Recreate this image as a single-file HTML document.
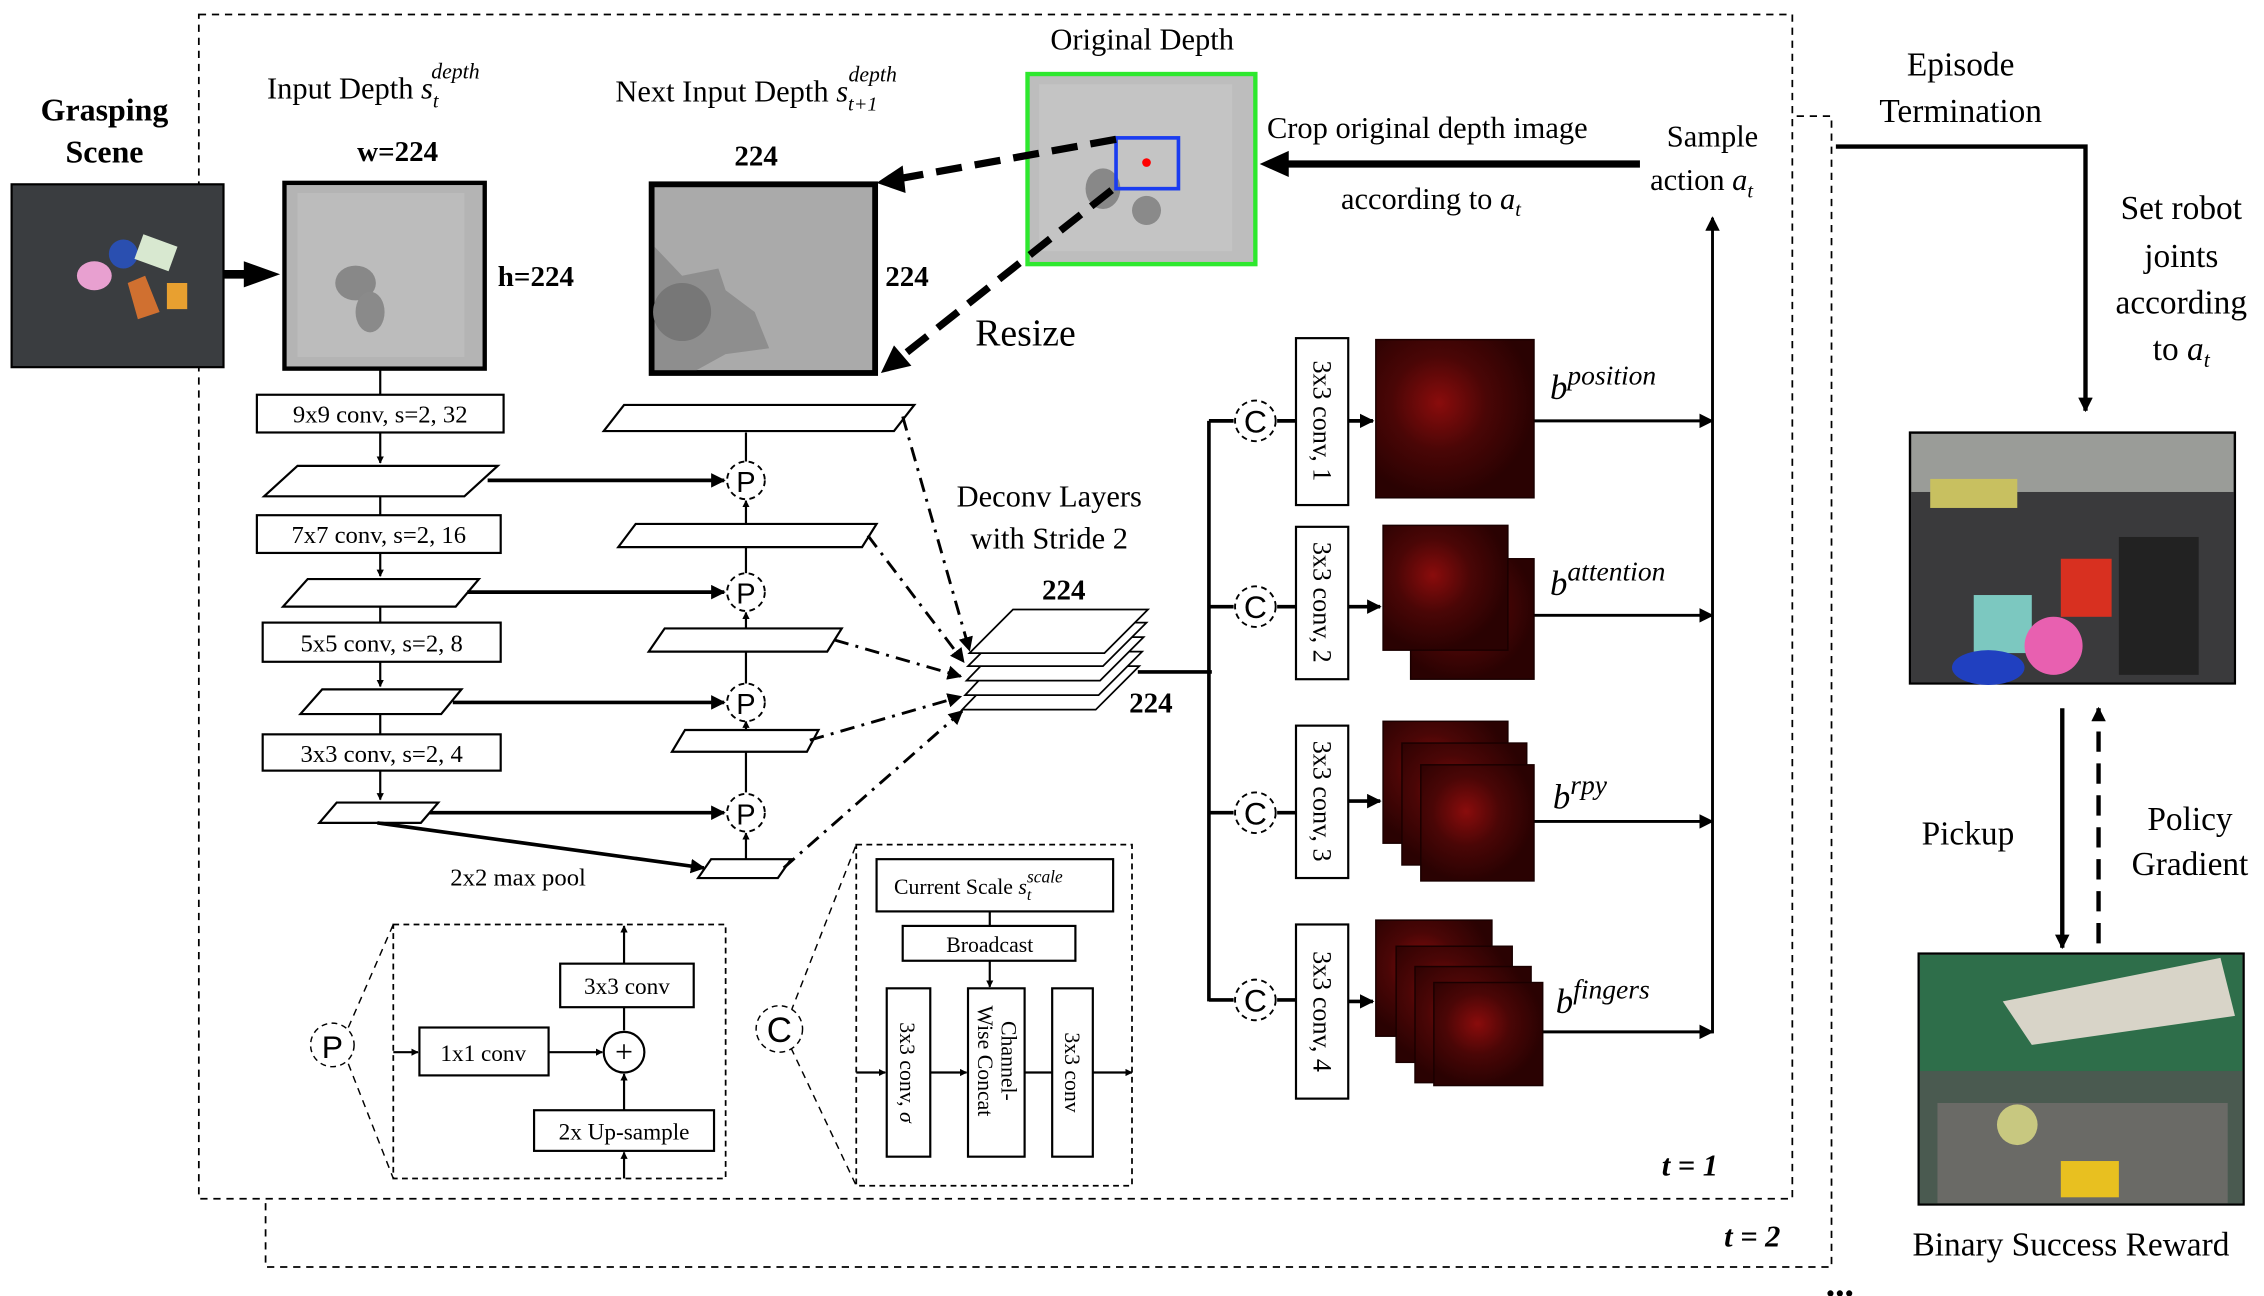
<!DOCTYPE html>
<html><head><meta charset="utf-8"><style>
html,body{margin:0;padding:0;background:#fff}
svg{display:block}
text{font-family:"Liberation Serif",serif;fill:#000}
</style></head><body>
<svg width="2264" height="1296" viewBox="0 0 1560 893" preserveAspectRatio="none" xmlns="http://www.w3.org/2000/svg">
<defs>
<marker id="a" viewBox="0 0 10 10" refX="9" refY="5" markerWidth="5" markerHeight="5" orient="auto-start-reverse" markerUnits="userSpaceOnUse"><path d="M0,0L10,5L0,10z"/></marker>
<marker id="am" viewBox="0 0 10 10" refX="9" refY="5" markerWidth="10" markerHeight="10" orient="auto" markerUnits="userSpaceOnUse"><path d="M0,0L10,5L0,10z"/></marker>
<radialGradient id="hm" cx="0.4" cy="0.4" r="0.6"><stop offset="0" stop-color="#8a0c0c"/><stop offset="0.5" stop-color="#4a0606"/><stop offset="1" stop-color="#2a0202"/></radialGradient>
</defs>

<rect x="137" y="10" width="1098" height="816" fill="none" stroke="#000" stroke-width="1.2" stroke-dasharray="5,4"/>
<path d="M1238,80H1262V873H183V828" fill="none" stroke="#000" stroke-width="1.2" stroke-dasharray="5,4"/>
<text x="1258" y="893" font-size="26" font-weight="bold">...</text>
<text x="1145" y="810" font-size="21" font-weight="bold" font-style="italic">t = 1</text>
<text x="1188" y="859" font-size="21" font-weight="bold" font-style="italic">t = 2</text>

<text x="72" y="83" font-size="22" font-weight="bold" text-anchor="middle">Grasping</text>
<text x="72" y="112" font-size="22" font-weight="bold" text-anchor="middle">Scene</text>
<rect x="8" y="127" width="146" height="126" fill="#3a3d40" stroke="#000" stroke-width="1.5"/>
<circle cx="85" cy="175" r="10" fill="#2a4fb0"/><rect x="95" y="165" width="25" height="18" fill="#d8e8d0" transform="rotate(20 107 174)"/>
<ellipse cx="65" cy="190" rx="12" ry="10" fill="#e8a0d0"/><polygon points="88,195 100,190 110,215 95,220" fill="#d07030"/><rect x="115" y="195" width="14" height="18" fill="#e8a030"/>
<path d="M154,189H170" stroke="#000" stroke-width="6"/><polygon points="168,180 193,189 168,198"/>

<text x="184" y="68" font-size="21">Input Depth <tspan font-style="italic">s</tspan><tspan font-size="14" font-style="italic" dy="6">t</tspan><tspan font-size="15" font-style="italic" dx="-5" dy="-20">depth</tspan></text>
<text x="274" y="111" font-size="20" font-weight="bold" text-anchor="middle">w=224</text>
<rect x="196" y="126" width="138" height="128" fill="#b4b4b4" stroke="#000" stroke-width="3"/>
<rect x="205" y="133" width="115" height="113" fill="#bcbcbc"/>
<ellipse cx="245" cy="195" rx="14" ry="12" fill="#888"/><ellipse cx="255" cy="215" rx="10" ry="14" fill="#8a8a8a"/>
<text x="343" y="197" font-size="20" font-weight="bold">h=224</text>

<text x="424" y="70" font-size="21">Next Input Depth <tspan font-style="italic">s</tspan><tspan font-size="14" font-style="italic" dy="6">t+1</tspan><tspan font-size="15" font-style="italic" dx="-20" dy="-20">depth</tspan></text>
<text x="521" y="114" font-size="20" font-weight="bold" text-anchor="middle">224</text>
<rect x="449" y="127" width="154" height="130" fill="#aaa" stroke="#000" stroke-width="4"/>
<path d="M451,170 L470,190 L495,185 L500,200 L520,215 L530,240 L500,244 L480,255 L451,255Z" fill="#8e8e8e"/>
<circle cx="470" cy="215" r="20" fill="#777"/>
<text x="610" y="197" font-size="20" font-weight="bold">224</text>

<text x="787" y="34" font-size="21" text-anchor="middle">Original Depth</text>
<rect x="708" y="51" width="157" height="131" fill="#bdbdbd" stroke="#2ee82e" stroke-width="3"/>
<rect x="716" y="58" width="133" height="115" fill="#c4c4c4"/>
<ellipse cx="760" cy="130" rx="12" ry="14" fill="#888"/><ellipse cx="790" cy="145" rx="10" ry="10" fill="#8a8a8a"/>
<rect x="769" y="95" width="43" height="35" fill="none" stroke="#1a3cf0" stroke-width="2.5"/>
<circle cx="790" cy="112" r="3" fill="#f00"/>
<path d="M769,96 L620,123" stroke="#000" stroke-width="5" stroke-dasharray="18,9"/><polygon points="604,126 622,114 624,133"/>
<path d="M766,131 L622,245" stroke="#000" stroke-width="5" stroke-dasharray="18,9"/><polygon points="607,257 616,238 628,252"/>
<text x="672" y="238" font-size="26">Resize</text>

<path d="M1130,113H885" stroke="#000" stroke-width="5"/><polygon points="868,113 888,104 888,122"/>
<text x="873" y="95" font-size="21">Crop original depth image</text>
<text x="924" y="144" font-size="21">according to <tspan font-style="italic">a</tspan><tspan font-size="14" font-style="italic" dy="5">t</tspan></text>
<text x="1180" y="101" font-size="21" text-anchor="middle">Sample</text>
<text x="1137" y="131" font-size="21">action <tspan font-style="italic">a</tspan><tspan font-size="14" font-style="italic" dy="5">t</tspan></text>
<path d="M1180,712V150" stroke="#000" stroke-width="2" marker-end="url(#am)"/>

<g stroke="#000" stroke-width="1.5" fill="#fff">
<path d="M262,255V272" fill="none"/>
<path d="M262,298V319" fill="none" marker-end="url(#a)"/>
<path d="M262,342V355" fill="none"/>
<path d="M262,381V397" fill="none" marker-end="url(#a)"/>
<path d="M262,418V429" fill="none"/>
<path d="M262,456V473" fill="none" marker-end="url(#a)"/>
<path d="M262,492V506" fill="none"/>
<path d="M262,531V551" fill="none" marker-end="url(#a)"/>
<rect x="177" y="272" width="170" height="26"/>
<polygon points="205,321 343,321 320,342 182,342"/>
<rect x="177" y="355" width="168" height="26"/>
<polygon points="212,399 330,399 314,418 195,418"/>
<rect x="181" y="429" width="164" height="27"/>
<polygon points="222,475 318,475 304,492 207,492"/>
<rect x="181" y="506" width="164" height="25"/>
<polygon points="232,553 302,553 290,567 220,567"/>
</g>
<g font-size="17" text-anchor="middle">
<text x="262" y="291">9x9 conv, s=2, 32</text>
<text x="261" y="374">7x7 conv, s=2, 16</text>
<text x="263" y="449">5x5 conv, s=2, 8</text>
<text x="263" y="525">3x3 conv, s=2, 4</text>
</g>
<g stroke="#000" stroke-width="2.5" fill="none">
<path d="M336,331H499" marker-end="url(#am)"/>
<path d="M322,408H499" marker-end="url(#am)"/>
<path d="M312,484H499" marker-end="url(#am)"/>
<path d="M296,560H499" marker-end="url(#am)"/>
<path d="M260,567L485,598" marker-end="url(#am)"/>
</g>
<text x="357" y="610" font-size="17" text-anchor="middle">2x2 max pool</text>

<g stroke="#000" stroke-width="1.5" fill="#fff">
<path d="M514,592V574" fill="none" marker-end="url(#a)"/><path d="M514,546V518" fill="none"/>
<path d="M514,503V497" fill="none" marker-end="url(#a)"/><path d="M514,471V449" fill="none"/>
<path d="M514,433V422" fill="none" marker-end="url(#a)"/><path d="M514,395V377" fill="none"/>
<path d="M514,361V345" fill="none" marker-end="url(#a)"/><path d="M514,318V298" fill="none"/>
<polygon points="430,279 630,279 616,297 416,297"/>
<polygon points="438,361 604,361 594,377 426,377"/>
<polygon points="458,433 580,433 570,449 447,449"/>
<polygon points="472,503 564,503 556,518 463,518"/>
<polygon points="490,592 545,592 536,605 481,605"/>
</g>
<g stroke="#000" stroke-width="1.3" fill="#fff" stroke-dasharray="4,3">
<circle cx="514" cy="331" r="13"/><circle cx="514" cy="408" r="13"/><circle cx="514" cy="484" r="13"/><circle cx="514" cy="560" r="13"/>
</g>
<g font-size="20" text-anchor="middle"><text x="514" y="339" style="font-family:'Liberation Sans'">P</text><text x="514" y="416" style="font-family:'Liberation Sans'">P</text><text x="514" y="492" style="font-family:'Liberation Sans'">P</text><text x="514" y="568" style="font-family:'Liberation Sans'">P</text></g>

<g stroke="#000" stroke-width="2" fill="none" stroke-dasharray="10,5,2,5">
<path d="M622,287L668,448" marker-end="url(#am)"/>
<path d="M598,369L664,456" marker-end="url(#am)"/>
<path d="M575,441L662,466" marker-end="url(#am)"/>
<path d="M558,510L662,480" marker-end="url(#am)"/>
<path d="M540,598L663,490" marker-end="url(#am)"/>
</g>
<text x="723" y="349" font-size="21" text-anchor="middle">Deconv Layers</text>
<text x="723" y="378" font-size="21" text-anchor="middle">with Stride 2</text>
<text x="733" y="413" font-size="20" font-weight="bold" text-anchor="middle">224</text>
<text x="778" y="491" font-size="20" font-weight="bold">224</text>
<g stroke="#000" stroke-width="1.2" fill="#fff">
<polygon points="692,459 785,459 755,489 663,489"/>
<polygon points="693,449 787,449 757,479 665,479"/>
<polygon points="695,439 788,439 758,469 666,469"/>
<polygon points="697,429 790,429 760,459 667,459"/>
<polygon points="698,420 791,420 761,450 668,450"/>
</g>
<path d="M784,463H835M833,290V690" stroke="#000" stroke-width="2.5" fill="none"/>

<g stroke="#000" stroke-width="2.5" fill="none">
<path d="M833,290H850M880,290H893"/><path d="M833,418H850M880,418H893"/><path d="M833,560H850M880,560H893"/><path d="M833,689H850M880,689H893"/>
<path d="M929,290H946" marker-end="url(#am)"/><path d="M929,418H951" marker-end="url(#am)"/><path d="M929,552H951" marker-end="url(#am)"/><path d="M929,690H946" marker-end="url(#am)"/>
<path d="M1057,290H1180" stroke-width="2" marker-end="url(#am)"/>
<path d="M1057,424H1180" stroke-width="2" marker-end="url(#am)"/>
<path d="M1057,566H1180" stroke-width="2" marker-end="url(#am)"/>
<path d="M1062,711H1180" stroke-width="2" marker-end="url(#am)"/>
</g>
<g stroke="#000" stroke-width="1.3" fill="#fff" stroke-dasharray="4,3">
<circle cx="865" cy="290" r="14"/><circle cx="865" cy="418" r="14"/><circle cx="865" cy="560" r="14"/><circle cx="865" cy="689" r="14"/>
</g>
<g font-size="22" text-anchor="middle"><text x="865" y="298" style="font-family:'Liberation Sans'">C</text><text x="865" y="426" style="font-family:'Liberation Sans'">C</text><text x="865" y="568" style="font-family:'Liberation Sans'">C</text><text x="865" y="697" style="font-family:'Liberation Sans'">C</text></g>
<g stroke="#000" stroke-width="1.5" fill="#fff">
<rect x="893" y="233" width="36" height="115"/><rect x="893" y="363" width="36" height="105"/><rect x="893" y="500" width="36" height="105"/><rect x="893" y="637" width="36" height="120"/>
</g>
<g font-size="18" text-anchor="middle">
<text transform="translate(905,290) rotate(90)">3x3 conv, 1</text>
<text transform="translate(905,415) rotate(90)">3x3 conv, 2</text>
<text transform="translate(905,552) rotate(90)">3x3 conv, 3</text>
<text transform="translate(905,697) rotate(90)">3x3 conv, 4</text>
</g>
<rect x="948" y="234" width="109" height="109" fill="url(#hm)" stroke="#1a0000"/>
<rect x="972" y="385" width="85" height="83" fill="url(#hm)" stroke="#1a0000"/>
<rect x="953" y="362" width="86" height="86" fill="url(#hm)" stroke="#1a0000"/>
<rect x="953" y="497" width="86" height="84" fill="url(#hm)" stroke="#1a0000"/>
<rect x="966" y="512" width="86" height="84" fill="url(#hm)" stroke="#1a0000"/>
<rect x="979" y="527" width="78" height="80" fill="url(#hm)" stroke="#1a0000"/>
<rect x="948" y="634" width="80" height="80" fill="url(#hm)" stroke="#1a0000"/>
<rect x="962" y="652" width="80" height="80" fill="url(#hm)" stroke="#1a0000"/>
<rect x="975" y="666" width="80" height="80" fill="url(#hm)" stroke="#1a0000"/>
<rect x="988" y="677" width="75" height="71" fill="url(#hm)" stroke="#1a0000"/>
<g font-size="24" font-style="italic">
<text x="1068" y="275">b<tspan font-size="19" dy="-10">position</tspan></text>
<text x="1068" y="410">b<tspan font-size="19" dy="-10">attention</tspan></text>
<text x="1070" y="557">b<tspan font-size="19" dy="-10">rpy</tspan></text>
<text x="1072" y="698">b<tspan font-size="19" dy="-10">fingers</tspan></text>
</g>

<rect x="271" y="637" width="229" height="175" fill="none" stroke="#000" stroke-width="1.2" stroke-dasharray="4,3"/>
<path d="M240,708L271,637M240,733L271,812" stroke="#000" stroke-dasharray="5,4" fill="none"/>
<circle cx="229" cy="720" r="15" fill="#fff" stroke="#000" stroke-dasharray="4,3"/>
<text x="229" y="729" font-size="22" text-anchor="middle" style="font-family:'Liberation Sans'">P</text>
<g stroke="#000" stroke-width="1.5" fill="#fff">
<path d="M271,725H288" marker-end="url(#a)"/><path d="M378,725H415" marker-end="url(#a)"/>
<path d="M430,765V740" marker-end="url(#a)"/><path d="M430,710V694"/><path d="M430,664V638" marker-end="url(#a)"/><path d="M430,812V794" marker-end="url(#a)"/>
<rect x="289" y="708" width="89" height="33"/><rect x="386" y="664" width="92" height="30"/><rect x="368" y="765" width="124" height="28"/>
<circle cx="430" cy="725" r="14"/>
</g>
<text x="430" y="732" font-size="22" text-anchor="middle">+</text>
<g font-size="16" text-anchor="middle"><text x="333" y="731">1x1 conv</text><text x="432" y="685">3x3 conv</text><text x="430" y="785">2x Up-sample</text></g>

<rect x="590" y="582" width="190" height="235" fill="none" stroke="#000" stroke-width="1.2" stroke-dasharray="4,3"/>
<path d="M545,697L590,582M545,722L590,817" stroke="#000" stroke-dasharray="5,4" fill="none"/>
<circle cx="537" cy="709" r="16" fill="#fff" stroke="#000" stroke-dasharray="4,3"/>
<text x="537" y="718" font-size="24" text-anchor="middle" style="font-family:'Liberation Sans'">C</text>
<g stroke="#000" stroke-width="1.5" fill="#fff">
<path d="M682,628V638"/><path d="M682,662V680" marker-end="url(#a)"/>
<path d="M590,739H610" marker-end="url(#a)"/><path d="M641,739H666" marker-end="url(#a)"/><path d="M706,739H725"/><path d="M753,739H780" marker-end="url(#a)"/>
<rect x="604" y="592" width="163" height="36"/><rect x="622" y="638" width="119" height="24"/>
<rect x="611" y="681" width="30" height="116"/><rect x="667" y="681" width="39" height="116"/><rect x="725" y="681" width="28" height="116"/>
</g>
<text x="616" y="616" font-size="15">Current Scale <tspan font-style="italic">s</tspan><tspan font-size="11" font-style="italic" dy="4">t</tspan><tspan font-size="12" font-style="italic" dx="-3" dy="-12">scale</tspan></text>
<g font-size="15" text-anchor="middle">
<text x="682" y="656">Broadcast</text>
<text transform="translate(620,739) rotate(90)">3x3 conv, <tspan font-style="italic">σ</tspan></text>
<text transform="translate(690,731) rotate(90)">Channel-</text>
<text transform="translate(674,731) rotate(90)">Wise Concat</text>
<text transform="translate(734,739) rotate(90)">3x3 conv</text>
</g>

<text x="1351" y="52" font-size="23" text-anchor="middle">Episode</text>
<text x="1351" y="84" font-size="23" text-anchor="middle">Termination</text>
<path d="M1265,101H1437V283" stroke="#000" stroke-width="3" fill="none" marker-end="url(#am)"/>
<g font-size="23" text-anchor="middle">
<text x="1503" y="151">Set robot</text><text x="1503" y="184">joints</text><text x="1503" y="216">according</text>
<text x="1503" y="248">to <tspan font-style="italic">a</tspan><tspan font-size="15" font-style="italic" dy="5">t</tspan></text>
</g>
<rect x="1316" y="298" width="224" height="173" fill="#3a3a3c" stroke="#000" stroke-width="1.5"/>
<rect x="1317" y="299" width="222" height="40" fill="#9a9c98"/>
<rect x="1330" y="330" width="60" height="20" fill="#c8c060"/>
<rect x="1460" y="370" width="55" height="95" fill="#222"/>
<rect x="1360" y="410" width="40" height="40" fill="#7cc8c0"/><circle cx="1415" cy="445" r="20" fill="#e860b0"/><rect x="1420" y="385" width="35" height="40" fill="#d83020"/><ellipse cx="1370" cy="460" rx="25" ry="12" fill="#2040c0"/>
<path d="M1421,488V653" stroke="#000" stroke-width="3" fill="none" marker-end="url(#am)"/>
<path d="M1446,650V488" stroke="#000" stroke-width="3" stroke-dasharray="14,8" fill="none" marker-end="url(#am)"/>
<text x="1356" y="582" font-size="23" text-anchor="middle">Pickup</text>
<text x="1509" y="572" font-size="23" text-anchor="middle">Policy</text>
<text x="1509" y="603" font-size="23" text-anchor="middle">Gradient</text>
<rect x="1322" y="657" width="224" height="173" fill="#4a5a50" stroke="#000" stroke-width="1.5"/>
<rect x="1323" y="658" width="222" height="80" fill="#2e6e4a"/>
<path d="M1380,690 L1530,660 L1540,700 L1400,720Z" fill="#d8d4c8"/>
<rect x="1335" y="760" width="200" height="69" fill="#6a6a66"/>
<circle cx="1390" cy="775" r="14" fill="#c8c880"/><rect x="1420" y="800" width="40" height="25" fill="#e8c020"/>
<text x="1427" y="865" font-size="23" text-anchor="middle">Binary Success Reward</text>
</svg>
</body></html>
